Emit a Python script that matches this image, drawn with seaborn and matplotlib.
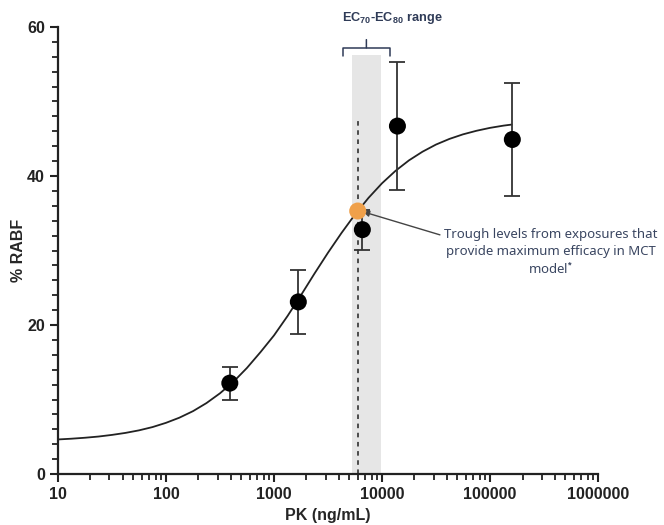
"""Exposure-response plot: % RABF vs PK with fitted curve and EC70-EC80 band."""

import matplotlib

matplotlib.use("Agg")
import matplotlib.pyplot as plt
import matplotlib.ticker as mticker
import numpy as np
import pandas as pd
import seaborn as sns

# observed data (mean +/- error)
pk_obs = [390, 1680, 6580, 13900, 161000]
rabf_obs = [12.2, 23.1, 32.8, 46.7, 44.9]
rabf_err = [2.2, 4.3, 2.7, 8.6, 7.6]

# fitted curve at eighth-decade steps
curve_pk = [10, 13.3, 17.8, 23.7, 31.6, 42.2, 56.2, 75, 100, 133, 178, 237, 316, 422,
            562, 750, 1000, 1334, 1778, 2371, 3162, 4217, 5623, 7499, 10000, 13335,
            17783, 23714, 31623, 42170, 56234, 74989, 100000, 133352, 158489]
curve_rabf = [4.64, 4.74, 4.87, 5.03, 5.25, 5.52, 5.86, 6.30, 6.87, 7.56, 8.44, 9.52,
              10.83, 12.39, 14.24, 16.36, 18.6, 21.2, 24.0, 26.9, 29.7, 32.35, 34.83,
              37.06, 39.02, 40.69, 42.1, 43.26, 44.22, 44.98, 45.59, 46.07, 46.46,
              46.76, 46.9]

# trough level point and EC70-EC80 range
trough_pk = 5960
trough_rabf = 35.3
ec_lo, ec_hi = 5300, 9700
band_top = 56.3
dashed_top = 47.6

sns.set_style("ticks")
plt.rcParams["font.family"] = ["Liberation Sans", "DejaVu Sans"]
plt.rcParams["mathtext.fontset"] = "custom"
plt.rcParams["mathtext.bf"] = "Liberation Sans:bold"
plt.rcParams["mathtext.rm"] = "Liberation Sans:bold"

fig = plt.figure(figsize=(6.64, 5.25), dpi=100)
ax = fig.add_axes([0.0873, 0.0971, 0.8133, 0.8515])

ax.axvspan(ec_lo, ec_hi, ymax=band_top / 60, color="#e6e6e6", lw=0, zorder=0)
ax.vlines(trough_pk, 0, dashed_top, colors="#222222", linestyles=(0, (3, 3)), lw=1.1, zorder=1)

curve = pd.DataFrame({"pk": curve_pk, "rabf": curve_rabf})
sns.lineplot(data=curve, x="pk", y="rabf", color="#222222", lw=1.3, ax=ax, zorder=2)

ax.errorbar(pk_obs, rabf_obs, yerr=rabf_err, fmt="none", ecolor="#333333",
            elinewidth=1.3, capsize=6, capthick=1.3, zorder=3)
obs = pd.DataFrame({"pk": pk_obs, "rabf": rabf_obs})
sns.scatterplot(data=obs, x="pk", y="rabf", color="black", s=150, edgecolor="none",
                ax=ax, zorder=4)
ax.scatter([trough_pk], [trough_rabf], color="#efa04a", s=150, edgecolor="none", zorder=5)

ax.set_xscale("log")
ax.set_xlim(10, 1e6)
ax.set_ylim(0, 60)
ax.xaxis.set_major_locator(mticker.LogLocator(base=10, numticks=100))
ax.xaxis.set_minor_locator(mticker.LogLocator(base=10, subs=np.arange(2, 10), numticks=100))
ax.xaxis.set_major_formatter(mticker.FuncFormatter(lambda v, p: f"{int(round(v))}"))
ax.xaxis.set_minor_formatter(mticker.NullFormatter())
ax.yaxis.set_major_locator(mticker.MultipleLocator(20))
ax.yaxis.set_minor_locator(mticker.MultipleLocator(2))

sns.despine(ax=ax)
for side in ["left", "bottom"]:
    ax.spines[side].set_linewidth(1.6)
    ax.spines[side].set_color("#222222")
ax.tick_params(which="major", length=6, width=1.5, colors="#222222", labelsize=11.5)
ax.tick_params(which="minor", length=4, width=1.3, colors="#222222")
for lab in ax.get_xticklabels() + ax.get_yticklabels():
    lab.set_fontweight("bold")

ax.set_xlabel("PK (ng/mL)", fontsize=11.5, fontweight="bold", labelpad=4)
ax.set_ylabel("% RABF", fontsize=11.5, fontweight="bold", labelpad=1)

# EC70-EC80 label and bracket
navy = "#2f3b57"
ax.text(12600, 61.2, r"$\mathbf{EC_{70}\text{-}EC_{80}\ range}$", ha="center", va="center",
        fontsize=9.2, color=navy, clip_on=False)
band_mid = np.sqrt(ec_lo * ec_hi)
ax.annotate("", xy=(band_mid, 57.2), xytext=(band_mid, 58.3), annotation_clip=False,
            arrowprops=dict(arrowstyle="-[, widthB=1.7, lengthB=0.6", color=navy, lw=1.1,
                            mutation_scale=10, shrinkA=0, shrinkB=0))

# trough annotation
ax.annotate("", xy=(trough_pk * 1.12, trough_rabf - 0.1), xytext=(34400, 32.1),
            arrowprops=dict(arrowstyle="-|>", color="#444444", lw=1.0,
                            mutation_scale=9, shrinkA=0, shrinkB=0))
ax.text(367000, 33.0, "Trough levels from exposures that\nprovide maximum efficacy in MCT\nmodel$^{*}$",
        ha="center", va="top", fontsize=9.5, color="#3a4661", linespacing=1.35,
        family=["Noto Sans", "DejaVu Sans"], clip_on=False)

fig.savefig("out.png", dpi=100)
